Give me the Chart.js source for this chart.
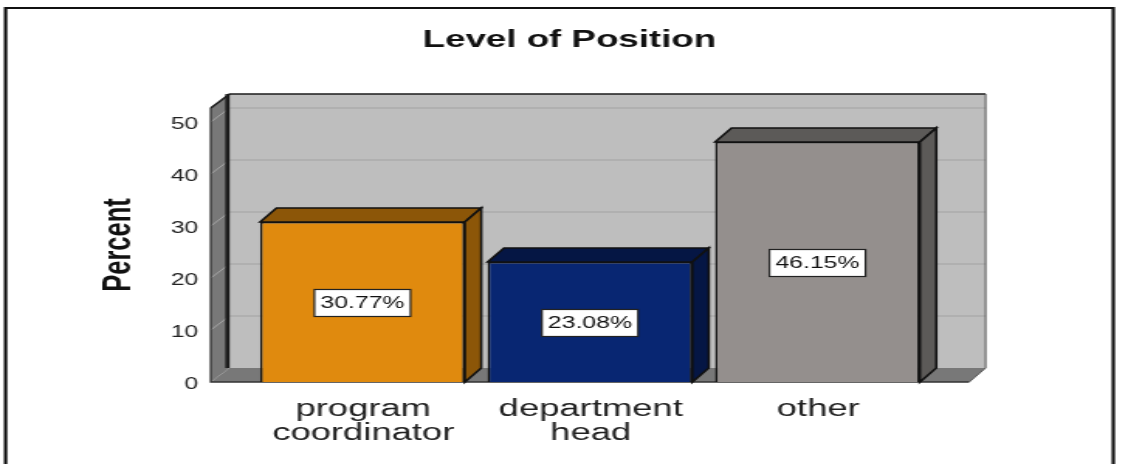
<!DOCTYPE html>
<html><head><meta charset="utf-8">
<style>
html,body{margin:0;padding:0;background:#fff;overflow:hidden}
#wrap{position:absolute;left:0;top:0;width:728px;height:464px;transform-origin:0 0;transform:scaleX(1.54945);filter:blur(0.35px)}
canvas{display:block}
</style>
<script src="https://cdn.jsdelivr.net/npm/chart.js@4"></script>
</head><body><div id="wrap"><canvas id="c" width="728" height="464"></canvas></div>
<script>
const titleText = "Level of Position";
const axisTitle = "Percent";
const categories = [["program","coordinator"],["department","head"],["other"]];
const percents = [30.77, 23.08, 46.15];
const yTicks = [0,10,20,30,40,50];
const frontColors = ["#E08A0E","#082672","#948F8D"];
const sideColors = ["#8C5608","#051644","#5C5A58"];
const dx = 10.6, dxL = 12.2, dy = 14;

function poly(ctx, pts, fill, stroke, lw){
  ctx.beginPath();
  pts.forEach((p,i)=> i?ctx.lineTo(p[0],p[1]):ctx.moveTo(p[0],p[1]));
  ctx.closePath();
  if(fill){ctx.fillStyle=fill;ctx.fill();}
  if(stroke){ctx.strokeStyle=stroke;ctx.lineWidth=lw||1;ctx.stroke();}
}
const room = {
  id:'room',
  beforeDatasetsDraw(chart){
    const {ctx,chartArea:a,scales:{y}} = chart;
    const L = a.left-24.5, R = a.right+24.5, T = a.top, B = a.bottom;
    ctx.save();
    poly(ctx,[[L+dxL,T-dy],[R+dx,T-dy],[R+dx,B-dy],[L+dxL,B-dy]],"#BEBEBE");
    poly(ctx,[[L,B],[R,B],[R+dx,B-dy],[L+dxL,B-dy]],"#787878");
    poly(ctx,[[L,T],[L+dxL,T-dy],[L+dxL,B-dy],[L,B]],"#787878");
    yTicks.slice(1).forEach(v=>{
      const py=y.getPixelForValue(v);
      ctx.strokeStyle="#ABABAB";ctx.lineWidth=1.4;
      ctx.beginPath();ctx.moveTo(L+dxL,py-dy);ctx.lineTo(R+dx,py-dy);ctx.stroke();
      ctx.strokeStyle="#A6A6A6";ctx.lineWidth=1;
      ctx.beginPath();ctx.moveTo(L,py);ctx.lineTo(L+dxL,py-dy);ctx.stroke();
    });
    ctx.fillStyle="#1c1c1c";ctx.fillRect(L+dxL-2.8,T-dy,2.8,B-T);
    ctx.strokeStyle="#1c1c1c";ctx.lineWidth=1.6;
    ctx.beginPath();ctx.moveTo(L,T);ctx.lineTo(L+dxL,T-dy);ctx.lineTo(R+dx,T-dy);ctx.stroke();
    ctx.strokeStyle="#333";ctx.lineWidth=1.3;
    ctx.beginPath();ctx.moveTo(L,T);ctx.lineTo(L,B);ctx.lineTo(R,B);ctx.stroke();
    ctx.strokeStyle="#555";ctx.lineWidth=1;
    ctx.beginPath();ctx.moveTo(R+dx,T-dy);ctx.lineTo(R+dx,B-dy);ctx.lineTo(R,B);ctx.stroke();
    chart.getDatasetMeta(0).data.forEach((b,i)=>{
      const l=b.x-b.width/2,r=b.x+b.width/2,t=b.y,bt=b.base;
      poly(ctx,[[l,t],[l+dx,t-dy],[r+dx,t-dy],[r,t]],sideColors[i],"#111",1.6);
      poly(ctx,[[r,t],[r+dx,t-dy],[r+dx,bt-dy],[r,bt]],sideColors[i],"#111",1.6);
    });
    ctx.restore();
  },
  afterDatasetsDraw(chart){
    const {ctx} = chart;
    ctx.save();
    ctx.font='16px "Liberation Sans"';
    ctx.textAlign='center';ctx.textBaseline='middle';
    chart.getDatasetMeta(0).data.forEach((b,i)=>{
      const s=percents[i].toFixed(2)+'%';
      const cy=(b.y+b.base)/2+1, w=62, h=27;
      ctx.fillStyle='#fff';ctx.strokeStyle='#222';ctx.lineWidth=1.2;
      ctx.fillRect(b.x-w/2,cy-h/2,w,h);ctx.strokeRect(b.x-w/2,cy-h/2,w,h);
      ctx.fillStyle='#111';ctx.fillText(s,b.x,cy+0.5);
    });
    ctx.restore();
  },
  beforeDraw(chart){
    const {ctx} = chart;
    ctx.save();
    ctx.strokeStyle='#111';ctx.lineWidth=2.2;
    ctx.beginPath();ctx.moveTo(3.6,464);ctx.lineTo(3.6,8);ctx.lineTo(718.5,8);ctx.lineTo(718.5,464);ctx.stroke();
    ctx.restore();
  }
};
new Chart(document.getElementById('c'),{
  type:'bar',
  data:{labels:categories,datasets:[{data:percents,backgroundColor:frontColors,borderColor:'#111',borderWidth:1.6,barPercentage:0.9,categoryPercentage:1,yAxisID:'y'}]},
  plugins:[room],
  options:{
    responsive:false,animation:false,devicePixelRatio:1,
    layout:{padding:{left:7,right:0,top:0,bottom:0}},
    plugins:{legend:{display:false},tooltip:{enabled:false},
      title:{display:true,text:titleText,color:'#111',align:'center',
        font:{family:'"Liberation Sans"',size:23.7,weight:'bold',lineHeight:1.2},
        padding:{top:25.8,bottom:53.8}}},
    scales:{
      x:{type:'category',offset:true,
        grid:{display:false},border:{display:false},
        afterFit(s){s.height=82;},
        ticks:{color:'#222',autoSkip:false,maxRotation:0,minRotation:0,padding:7,labelOffset:0.5,
          font:{family:'"Liberation Sans"',size:23.5,lineHeight:1.05}}},
      y:{type:'linear',min:0,max:52.68,
        afterBuildTicks(s){s.ticks=yTicks.map(v=>({value:v}));},
        afterFit(s){s.width=153.5;},
        grid:{display:false},border:{display:false},
        ticks:{color:'#222',padding:24.5,labelOffset:2.5,font:{family:'"Liberation Sans"',size:16}},
        title:{display:true,text:axisTitle,color:'#111',
          font:{family:'"Liberation Sans"',size:25.5,weight:'bold',lineHeight:1},
          padding:{top:57,bottom:0}}},
      r:{type:'linear',position:'right',display:true,
        afterFit(s){s.width=127;},
        grid:{display:false},border:{display:false},ticks:{display:false}}
    }
  }
});
</script></body></html>
